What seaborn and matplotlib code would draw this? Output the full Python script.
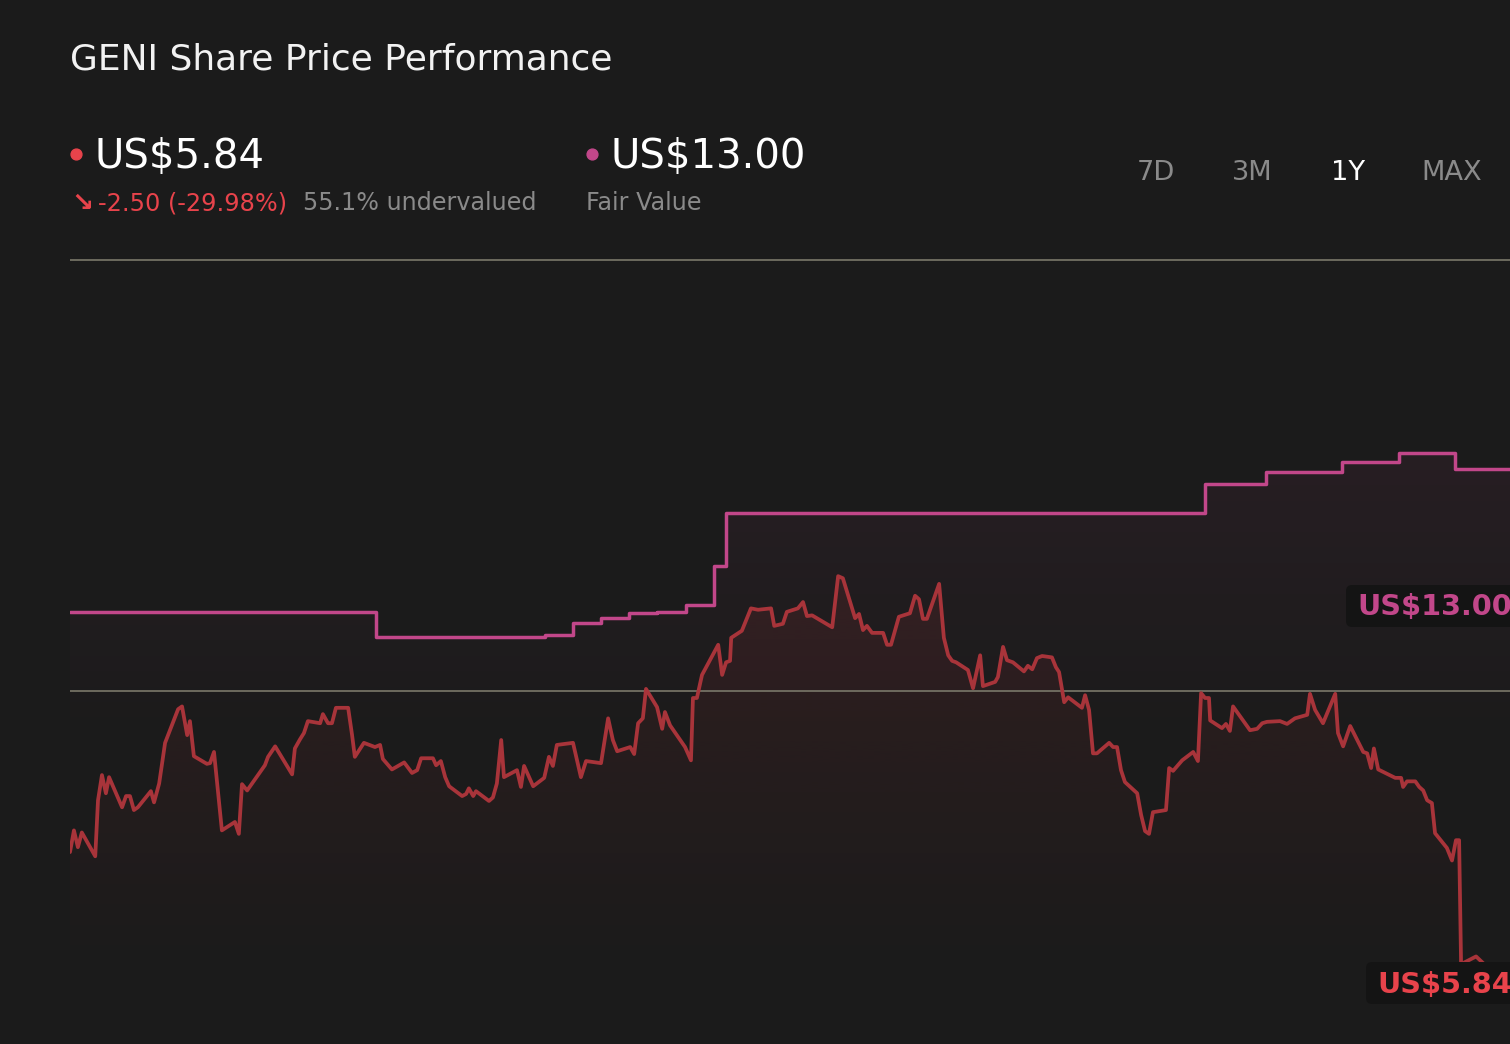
"""
GENI share price vs fair value, 1Y view, dark card style.
"""

import numpy as np
import pandas as pd
import seaborn as sns
import matplotlib.pyplot as plt
from matplotlib.patches import PathPatch, FancyBboxPatch
from matplotlib.colors import to_rgb


# ---- data ----
# days since the start of the 1Y window
price_days = [0, 1.0, 2.0, 3.0, 6.4, 7.1, 8.1, 9.1, 9.9, 13.2,
              14.2, 15.2, 16.2, 17.2, 20.5, 21.3, 22.6, 24.1, 27.4, 28.4,
              29.7, 30.4, 31.4, 34.7, 35.5, 36.5, 38.5, 41.8, 42.8, 43.6,
              44.9, 49.4, 50.2, 52.0, 56.3, 57.0, 58.3, 59.3, 60.3, 63.4,
              64.1, 65.4, 66.4, 67.4, 70.5, 71.5, 72.2, 74.5, 77.3, 78.6,
              79.3, 81.6, 84.7, 86.7, 88.0, 89.0, 92.0, 92.8, 94.0, 95.1,
              96.1, 99.4, 100.4, 101.1, 102.2, 102.9, 106.2, 107.2, 108.2, 109.3,
              110.0, 113.3, 114.3, 115.1, 117.4, 120.2, 121.4, 122.4, 123.4, 127.5,
              129.5, 130.8, 134.6, 136.4, 137.6, 138.7, 142.0, 143.0, 144.0, 145.2,
              146.0, 148.8, 150.1, 150.8, 152.1, 155.9, 157.4, 157.9, 158.9, 160.2,
              164.3, 165.3, 166.3, 167.3, 167.6, 170.3, 172.6, 174.4, 177.7, 178.5,
              180.7, 181.7, 184.5, 185.8, 186.8, 188.1, 193.2, 194.7, 195.9, 199.0,
              200.0, 201.0, 202.0, 203.3, 206.1, 207.1, 208.1, 210.1, 212.9, 214.2,
              215.2, 216.2, 217.2, 220.3, 221.5, 222.6, 223.6, 224.6, 227.6, 228.9,
              230.7, 231.4, 234.5, 235.2, 236.5, 237.5, 239.0, 241.8, 242.8, 243.9,
              245.1, 246.4, 248.9, 249.9, 250.7, 252.0, 253.0, 256.5, 257.3, 258.3,
              259.3, 260.3, 263.4, 264.4, 265.4, 266.4, 267.4, 270.5, 271.5, 272.5,
              273.5, 274.5, 277.8, 278.6, 279.6, 281.9, 284.7, 285.9, 286.7, 287.7,
              288.7, 289.0, 292.0, 293.0, 294.0, 294.8, 299.1, 300.9, 302.2, 303.4,
              306.7, 308.5, 310.5, 313.6, 314.3, 315.6, 317.6, 320.7, 321.4, 322.7,
              324.5, 327.8, 328.8, 329.8, 330.5, 331.6, 335.9, 337.4, 337.9, 338.9,
              341.0, 342.0, 343.0, 344.0, 345.2, 346.0, 349.0, 350.3, 351.3, 352.1,
              352.6, 356.4, 359.2, 365.0]

price_vals = [7.53, 7.84, 7.60, 7.81, 7.47, 8.27, 8.63, 8.37, 8.60, 8.17,
              8.33, 8.33, 8.13, 8.17, 8.40, 8.24, 8.51, 9.09, 9.57, 9.61,
              9.20, 9.40, 8.90, 8.79, 8.80, 8.96, 7.84, 7.96, 7.79, 8.50,
              8.41, 8.77, 8.89, 9.04, 8.64, 9.01, 9.14, 9.23, 9.40, 9.37,
              9.50, 9.37, 9.37, 9.59, 9.59, 9.20, 8.89, 9.09, 9.03, 9.06,
              8.86, 8.71, 8.81, 8.66, 8.70, 8.87, 8.87, 8.77, 8.83, 8.60,
              8.47, 8.33, 8.36, 8.44, 8.33, 8.40, 8.26, 8.31, 8.51, 9.13,
              8.60, 8.70, 8.46, 8.76, 8.47, 8.59, 8.89, 8.76, 9.06, 9.09,
              8.60, 8.83, 8.80, 9.44, 9.13, 8.97, 9.03, 8.93, 9.37, 9.44,
              9.86, 9.60, 9.29, 9.53, 9.34, 9.03, 8.84, 9.73, 9.73, 10.06,
              10.49, 10.06, 10.24, 10.26, 10.59, 10.69, 11.01, 10.99, 11.01, 10.76,
              10.79, 10.96, 11.01, 11.10, 10.90, 10.91, 10.74, 11.47, 11.44, 10.87,
              10.93, 10.70, 10.76, 10.66, 10.66, 10.49, 10.49, 10.89, 10.94, 11.19,
              11.14, 10.86, 10.86, 11.36, 10.59, 10.34, 10.26, 10.24, 10.13, 9.87,
              10.34, 9.90, 9.96, 10.03, 10.46, 10.27, 10.24, 10.11, 10.19, 10.14,
              10.30, 10.33, 10.31, 10.17, 10.10, 9.67, 9.74, 9.59, 9.77, 9.56,
              8.94, 8.94, 9.09, 9.03, 9.03, 8.70, 8.53, 8.37, 8.06, 7.83,
              7.79, 8.10, 8.13, 8.73, 8.69, 8.84, 8.96, 8.83, 9.80, 9.73,
              9.73, 9.41, 9.30, 9.36, 9.26, 9.61, 9.27, 9.29, 9.37, 9.39,
              9.40, 9.36, 9.44, 9.49, 9.79, 9.56, 9.37, 9.79, 9.23, 9.04,
              9.33, 8.96, 8.94, 8.73, 9.01, 8.71, 8.59, 8.59, 8.46, 8.54,
              8.54, 8.46, 8.41, 8.27, 8.23, 7.80, 7.59, 7.41, 7.70, 7.70,
              5.93, 6.04, 5.89, 5.84]

# fair value estimate, value holds from each day until the next
fv_days = [0, 77.6, 120.4, 127.5, 134.6, 141.7, 148.8, 156.1, 163.2, 166.3,
           287.7, 303.2, 322.4, 336.9, 351.1, 365]
fv_vals = [10.96, 10.60, 10.63, 10.80, 10.87, 10.94, 10.96, 11.06, 11.61, 12.37,
           12.79, 12.96, 13.10, 13.23, 13.00, 13.00]

grid_levels = [15.99, 9.83]

ticker = "GENI"
last_price = "US$5.84"
fair_value = "US$13.00"
change_txt = "-2.50 (-29.98%)"
valuation_txt = "55.1% undervalued"
range_buttons = ["7D", "3M", "1Y", "MAX"]
active_range = "1Y"


# ---- style ----
BG = "#1b1b1b"
RED_LINE = "#a8343a"
RED_TXT = "#e8434b"
PINK = "#c2478a"
GREY = "#8a8a8a"
GRID = "#7a786a"

W, H = 1510, 1044
sns.set_theme(style="dark")
plt.rcParams["font.family"] = ["DejaVu Sans"]

fig = plt.figure(figsize=(W / 100, H / 100), dpi=100, facecolor=BG)
ax = fig.add_axes([70 / W, 0, 1440 / W, (H - 130) / H])
ax.set_facecolor(BG)

YMIN, YMAX = 4.79, 17.84
XMAX = 365


def px(x, y):
    # pixel position (from top-left) -> inches for fig.dpi_scale_trans
    return x / 100, (H - y) / 100


def gradient_under(ax, x, y, color, a_top, fade_to, step=None, z=1):
    # fill under a series, fading from a_top at its peak to nothing at fade_to
    coll = ax.fill_between(x, y, YMIN, step=step, facecolor="none", edgecolor="none")
    patch = PathPatch(coll.get_paths()[0], transform=ax.transData,
                      facecolor="none", edgecolor="none")
    ax.add_patch(patch)
    grad = np.zeros((256, 1, 4))
    grad[..., :3] = to_rgb(color)
    grad[..., 3] = np.linspace(a_top, 0, 256)[:, None]
    im = ax.imshow(grad, extent=[x[0], x[-1], fade_to, max(y)], origin="upper",
                   aspect="auto", zorder=z, interpolation="bilinear")
    im.set_clip_path(patch)


price_df = pd.DataFrame({"day": price_days, "price": price_vals})
fv_df = pd.DataFrame({"day": fv_days, "fair": fv_vals})

gradient_under(ax, fv_days, fv_vals, PINK, 0.075, 9.0, step="post", z=1)
gradient_under(ax, price_days, price_vals, RED_LINE, 0.15, 5.9, z=2)

for lvl in grid_levels:
    ax.axhline(lvl, color=GRID, lw=1.2, zorder=3)

sns.lineplot(data=fv_df, x="day", y="fair", ax=ax, color=PINK, lw=2.5,
             drawstyle="steps-post", estimator=None, sort=False, zorder=4)
sns.lineplot(data=price_df, x="day", y="price", ax=ax, color=RED_LINE, lw=2.7,
             estimator=None, sort=False, zorder=5)

ax.set_xlim(0, XMAX)
ax.set_ylim(YMIN, YMAX)
ax.set_xticks([])
ax.set_yticks([])
ax.set_xlabel("")
ax.set_ylabel("")
for s in ax.spines.values():
    s.set_visible(False)
ax.grid(False)

T = fig.dpi_scale_trans

# ---- header ----
fig.text(*px(70, 69), f"{ticker} Share Price Performance", transform=T,
         color="#f2f2f2", fontsize=25.9, va="baseline", ha="left")

fig.add_artist(plt.Line2D([px(76, 154)[0]], [px(76, 154)[1]], transform=T,
                          marker="o", ms=7.8, color=RED_TXT, lw=0))
fig.text(*px(95, 168), last_price, transform=T, color="white",
         fontsize=28.9, va="baseline")
fig.add_artist(plt.Line2D([px(592, 154)[0]], [px(592, 154)[1]], transform=T,
                          marker="o", ms=7.8, color=PINK, lw=0))
fig.text(*px(611, 168), fair_value, transform=T, color="white",
         fontsize=28.9, va="baseline")

fig.text(*px(71, 211), "\u2198", transform=T, color=RED_TXT,
         fontsize=19, fontweight="bold", va="baseline")
fig.text(*px(98, 210), change_txt, transform=T, color=RED_TXT,
         fontsize=17.3, va="baseline")
fig.text(*px(303, 210), valuation_txt, transform=T, color=GREY,
         fontsize=17.2, va="baseline")
fig.text(*px(586, 210), "Fair Value", transform=T, color=GREY,
         fontsize=17.2, va="baseline")

for label, cx in zip(range_buttons, [1156, 1252, 1348, 1452]):
    fig.text(*px(cx, 180), label, transform=T, ha="center", va="baseline",
             fontsize=19.6, color="white" if label == active_range else GREY)

# ---- value tags on the right ----
for txt, col, box_y, base_y, x0, tx in [(fair_value, PINK, 585, 615, 1346, 1357),
                                        (last_price, RED_TXT, 962, 993, 1366, 1377)]:
    bx, by = px(x0, box_y + 42)
    fig.add_artist(FancyBboxPatch((bx, by), 2.0, 0.42, transform=T,
                                  boxstyle="round,pad=0,rounding_size=0.06",
                                  facecolor="#141414", edgecolor="none"))
    fig.text(*px(tx, base_y), txt, transform=T, color=col, fontsize=20.7,
             fontweight="bold", va="baseline")

fig.savefig("out.png", dpi=100, facecolor=BG)
